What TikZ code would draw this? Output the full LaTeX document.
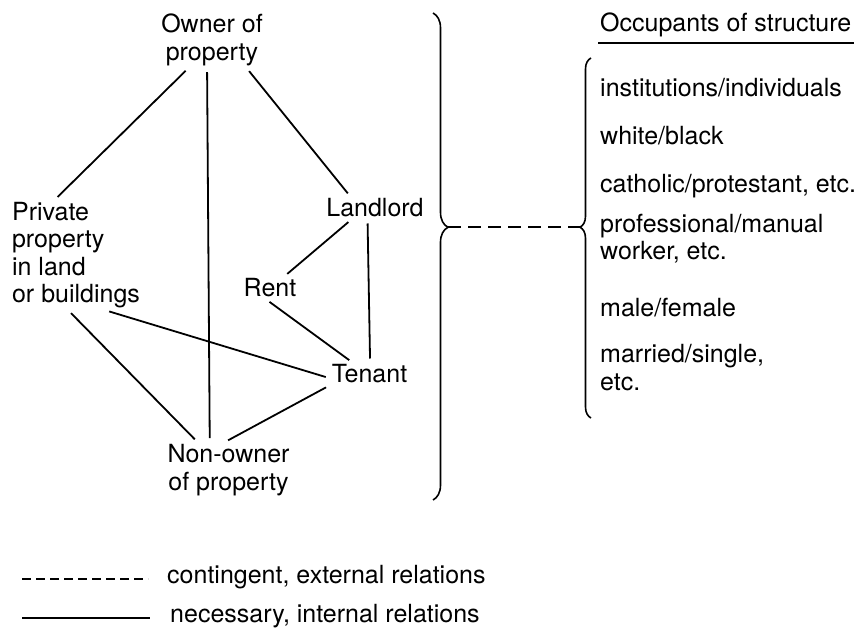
\documentclass[tikz,border=0pt]{standalone}
\usepackage{fontspec}
\setmainfont{TeX Gyre Heros}
\usetikzlibrary{decorations.pathreplacing}
\tikzset{
	lbl/.style={inner sep=2pt, font=\fontsize{25}{27.5}\selectfont},
	rel/.style={line width=1.8pt, shorten <=4pt, shorten >=4pt},
	contingent/.style={line width=1.8pt, dash pattern=on 13pt off 7pt},
	bigbrace/.style={line width=1.6pt, decorate, decoration={brace, amplitude=15pt, aspect=0.44}},
	smallbrace/.style={line width=1.6pt, decorate, decoration={brace, amplitude=11pt, aspect=0.53}}
}
\begin{document}
\begin{tikzpicture}[x=1pt, y=-1pt, every node/.style={lbl}]
	\useasboundingbox (0,0) rectangle (857,628);
	\node[align=center] (owner) at (212,40) {Owner of\\property};
	\node[align=left] (private) at (76,255) {Private\\property\\in land\\or buildings};
	\node (landlord) at (375,208) {Landlord};
	\node (rent) at (270,288) {Rent};
	\node (tenant) at (369.5,374) {Tenant};
	\node[align=center] (nonowner) at (228.5,470) {Non-owner\\of property};
	\draw[rel] (owner.230) -- (private.111);
	\draw[rel] (owner.260) -- (nonowner.124);
	\draw[rel] (owner.321) -- (landlord.155);
	\draw[rel] (landlord.206) -- (rent.39);
	\draw[rel] (landlord.237) -- (tenant.87);
	\draw[rel] (rent.252) -- (tenant.146);
	\draw[rel] (private.298) -- (tenant.186);
	\draw[rel] (private.262) -- (nonowner.138);
	\draw[rel] (tenant.196) -- (nonowner.98);
	\draw[bigbrace] (433,13) -- (433,500);
	\coordinate (bigtip) at (448,227);
	\draw[smallbrace] (591,418) -- (591,58);
	\coordinate (smalltip) at (580,227);
	\draw[contingent] (bigtip) -- (smalltip);
	\node[anchor=base west] (heading) at (598,32) {Occupants of structure};
	\draw[line width=2.2pt] ([yshift=-3pt]heading.south west) -- ([yshift=-3pt]heading.south east);
	\node[anchor=base west] (inst) at (598,97) {institutions/individuals};
	\node[anchor=base west] (race) at (598,145) {white/black};
	\node[anchor=base west] (relig) at (598,193) {catholic/protestant, etc.};
	\node[anchor=base west, align=left] (job) at (598,260) {professional/manual\\worker, etc.};
	\node[anchor=base west] (sex) at (598,317) {male/female};
	\node[anchor=base west, align=left] (marital) at (598,390) {married/single,\\etc.};
	\node[anchor=base west] (legc) at (165,583) {contingent, external relations};
	\node[anchor=base west] (legn) at (168,622) {necessary, internal relations};
	\draw[line width=1.8pt, dash pattern=on 9pt off 5pt] (22,579) -- (148,579);
	\draw[line width=1.8pt] (22,618) -- (150,618);
\end{tikzpicture}
\end{document}
